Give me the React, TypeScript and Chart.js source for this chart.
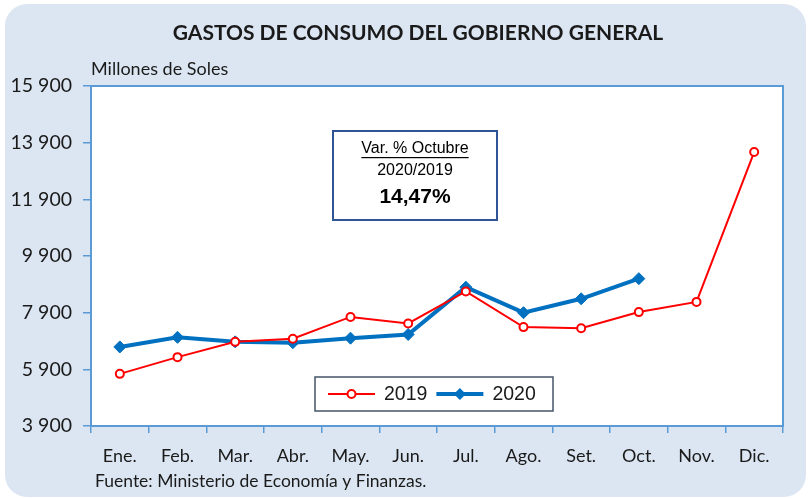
import React, { useEffect, useRef } from "react";
import { Chart, registerables } from "chart.js";

Chart.register(...registerables);

const months = ["Ene.", "Feb.", "Mar.", "Abr.", "May.", "Jun.", "Jul.", "Ago.", "Set.", "Oct.", "Nov.", "Dic."];
const values2019 = [5740, 6330, 6870, 6980, 7750, 7520, 8650, 7390, 7350, 7920, 8280, 13570];
const values2020 = [6690, 7030, 6870, 6840, 7000, 7130, 8800, 7900, 8390, 9100];
const seriesLabels = ["2019", "2020"];
const yTicks = [3900, 5900, 7900, 9900, 11900, 13900, 15900];
const titleText = "GASTOS DE CONSUMO DEL GOBIERNO GENERAL";
const unitText = "Millones de Soles";
const sourceText = "Fuente: Ministerio de Economía y Finanzas.";
const noteLines = ["Var. % Octubre", "2020/2019", "14,47%"];

const RED = "#ff0000";
const BLUE = "#0070c0";
const FRAME = "#5b9bd5";
const TEXT = "#1a1a1a";
const SANS = "Lato, 'Open Sans', sans-serif";
const ARIAL = "'Liberation Sans', Arial, sans-serif";

const fmt = (v: number) => String(v).replace(/\B(?=(\d{3})+(?!\d))/g, " ");

const decorPlugin = {
  id: "decor",
  beforeDraw(chart: any) {
    const { ctx, chartArea: a } = chart;
    ctx.save();
    ctx.fillStyle = "#ffffff";
    ctx.fillRect(a.left, a.top, a.right - a.left, a.bottom - a.top);
    ctx.restore();
  },
  beforeDatasetsDraw(chart: any) {
    const { ctx, chartArea: a } = chart;
    ctx.save();
    ctx.strokeStyle = FRAME;
    ctx.lineWidth = 2;
    ctx.strokeRect(a.left, a.top, a.right - a.left, a.bottom - a.top);
    ctx.restore();
  },
  afterDraw(chart: any) {
    const { ctx, chartArea: a } = chart;
    ctx.save();
    // title
    ctx.fillStyle = TEXT;
    ctx.textAlign = "center";
    ctx.textBaseline = "middle";
    ctx.font = `bold 21px ${SANS}`;
    ctx.fillText(titleText, 418, 33);
    // unit
    ctx.textAlign = "left";
    ctx.font = `18px ${SANS}`;
    ctx.fillText(unitText, a.left, 69);
    // source
    ctx.font = `17.5px ${SANS}`;
    ctx.fillText(sourceText, 95, 481);

    // note box
    const nx = 333, ny = 131, nw = 164, nh = 89;
    ctx.fillStyle = "#ffffff";
    ctx.fillRect(nx, ny, nw, nh);
    ctx.strokeStyle = "#2f5597";
    ctx.lineWidth = 2;
    ctx.strokeRect(nx, ny, nw, nh);
    const cx = nx + nw / 2;
    ctx.fillStyle = "#000";
    ctx.textAlign = "center";
    ctx.font = `16px ${ARIAL}`;
    ctx.fillText(noteLines[0], cx, 149);
    const w0 = ctx.measureText(noteLines[0]).width;
    ctx.fillRect(cx - w0 / 2, 157, w0, 1.2);
    ctx.fillText(noteLines[1], cx, 171);
    ctx.font = `bold 21px ${ARIAL}`;
    ctx.fillText(noteLines[2], cx, 197);

    // legend
    const lx = 315, ly = 377, lw = 238, lh = 34;
    ctx.fillStyle = "#ffffff";
    ctx.fillRect(lx, ly, lw, lh);
    ctx.strokeStyle = "#44546a";
    ctx.lineWidth = 1.5;
    ctx.strokeRect(lx, ly, lw, lh);
    const my = ly + lh / 2;
    let x = lx + 13;
    chart.data.datasets.forEach((ds: any) => {
      ctx.strokeStyle = ds.borderColor;
      ctx.lineWidth = ds.borderWidth;
      ctx.beginPath();
      ctx.moveTo(x, my);
      ctx.lineTo(x + 47, my);
      ctx.stroke();
      const mx = x + 23.5;
      if (ds.pointStyle === "circle") {
        ctx.beginPath();
        ctx.arc(mx, my, ds.pointRadius, 0, Math.PI * 2);
        ctx.fillStyle = ds.pointBackgroundColor;
        ctx.fill();
        ctx.lineWidth = ds.pointBorderWidth;
        ctx.strokeStyle = ds.pointBorderColor;
        ctx.stroke();
      } else {
        const r = ds.pointRadius;
        ctx.beginPath();
        ctx.moveTo(mx, my - r);
        ctx.lineTo(mx + r, my);
        ctx.lineTo(mx, my + r);
        ctx.lineTo(mx - r, my);
        ctx.closePath();
        ctx.fillStyle = ds.pointBackgroundColor;
        ctx.fill();
      }
      ctx.fillStyle = TEXT;
      ctx.textAlign = "left";
      ctx.font = `19.5px ${ARIAL}`;
      ctx.fillText(ds.label, x + 56, my + 1);
      x += 56 + ctx.measureText(ds.label).width + 9;
    });
    ctx.restore();
  },
};

export default function App() {
  const ref = useRef<HTMLCanvasElement | null>(null);

  useEffect(() => {
    if (!ref.current) return;
    const chart = new Chart(ref.current, {
      type: "line",
      data: {
        labels: months,
        datasets: [
          {
            label: seriesLabels[0],
            data: values2019,
            borderColor: RED,
            borderWidth: 2,
            pointStyle: "circle",
            pointRadius: 4,
            pointBorderWidth: 2,
            pointBorderColor: RED,
            pointBackgroundColor: "#ffffff",
            tension: 0,
          },
          {
            label: seriesLabels[1],
            data: values2020,
            borderColor: BLUE,
            borderWidth: 4,
            pointStyle: "rectRot",
            pointRadius: 6,
            pointBorderWidth: 1,
            pointBorderColor: BLUE,
            pointBackgroundColor: BLUE,
            tension: 0,
          },
        ],
      },
      options: {
        responsive: false,
        animation: false,
        devicePixelRatio: 1,
        layout: { padding: { top: 86, right: 26, left: 0, bottom: 0 } },
        plugins: { legend: { display: false }, title: { display: false }, tooltip: { enabled: false } },
        scales: {
          x: {
            type: "category",
            offset: true,
            grid: { offset: true, drawOnChartArea: false, drawTicks: true, tickLength: 7, color: FRAME, lineWidth: 1.5 },
            border: { display: true, color: FRAME, width: 2 },
            ticks: { font: { family: SANS, size: 18 }, color: TEXT, padding: 12, maxRotation: 0, autoSkip: false },
            afterFit: (s: any) => { s.height = 72; },
          },
          y: {
            type: "linear",
            min: yTicks[0],
            max: yTicks[yTicks.length - 1],
            afterBuildTicks: (ax: any) => { ax.ticks = yTicks.map((v) => ({ value: v })); },
            grid: { drawOnChartArea: false, drawTicks: true, tickLength: 8, color: FRAME, lineWidth: 1.5 },
            border: { display: true, color: FRAME, width: 2 },
            ticks: { font: { family: SANS, size: 19.5 }, color: TEXT, padding: 11, callback: (v: any) => fmt(Number(v)) },
            afterFit: (s: any) => { s.width = 91; },
          },
        },
      },
      plugins: [decorPlugin],
    });
    return () => chart.destroy();
  }, []);

  return (
    <div style={{ position: "absolute", left: 0, top: 0, width: 809, height: 498, background: "#ffffff", overflow: "hidden" }}>
      <div style={{ position: "absolute", left: 5, top: 4, right: 3, bottom: 1, background: "#dce6f2", borderRadius: 22 }} />
      <canvas ref={ref} width={809} height={498} style={{ position: "absolute", left: 0, top: 0, width: 809, height: 498 }} />
    </div>
  );
}
